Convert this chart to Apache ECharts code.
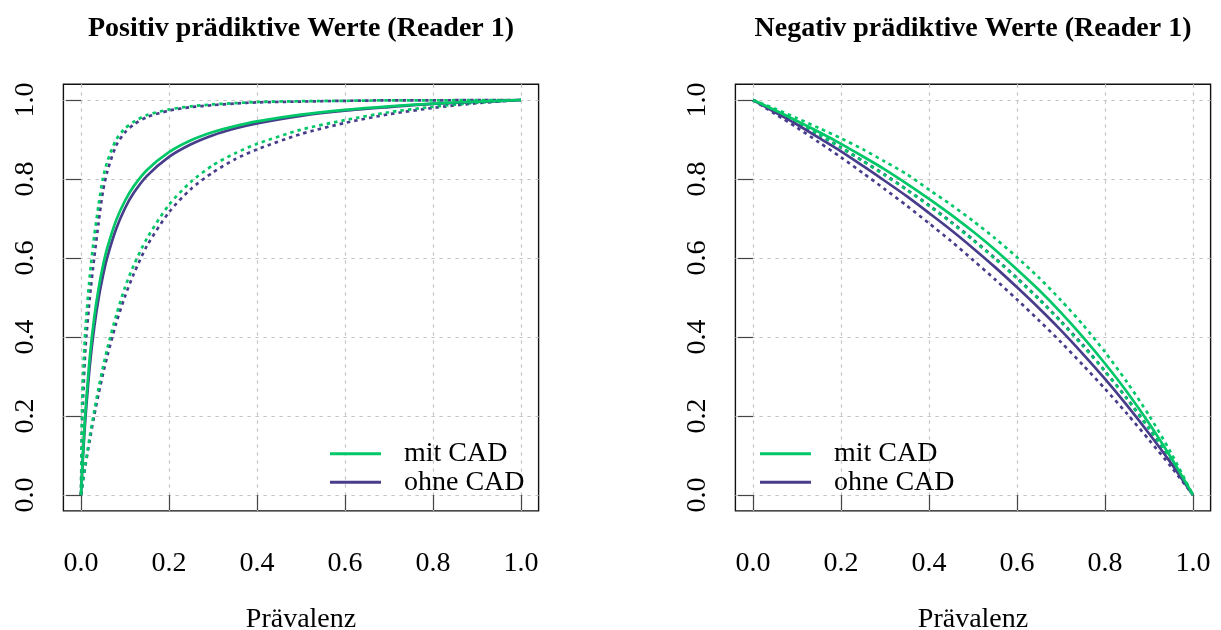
<!DOCTYPE html>
<html><head><meta charset="utf-8">
<script src="https://cdn.jsdelivr.net/npm/echarts@6/dist/echarts.min.js"></script>
<style>html,body{margin:0;padding:0;background:#fff}#c{width:1221px;height:630px}</style>
</head><body><div id="c"></div>
<script>
// ---- data ----
const titles = ['Positiv prädiktive Werte (Reader 1)', 'Negativ prädiktive Werte (Reader 1)'];
const xName = 'Prävalenz';
const seriesNames = ['mit CAD', 'ohne CAD'];
const tickValues = [0, 0.2, 0.4, 0.6, 0.8, 1.0];
const tickLabels = ['0.0', '0.2', '0.4', '0.6', '0.8', '1.0'];

// left panel: positive predictive values
const prevPPV = [0, 0.0025, 0.005, 0.01, 0.02, 0.03, 0.04, 0.05, 0.06, 0.08, 0.1, 0.12, 0.15, 0.2, 0.25, 0.3, 0.35, 0.4, 0.5, 0.6, 0.7, 0.8, 0.9, 1.0];
const ppvMit     = [0, 0.062, 0.117, 0.210, 0.349, 0.449, 0.523, 0.581, 0.627, 0.696, 0.745, 0.782, 0.823, 0.868, 0.898, 0.919, 0.934, 0.946, 0.963, 0.975, 0.984, 0.991, 0.996, 1.0];
const ppvOhne    = [0, 0.056, 0.107, 0.194, 0.327, 0.424, 0.498, 0.556, 0.603, 0.674, 0.726, 0.765, 0.808, 0.856, 0.888, 0.911, 0.928, 0.941, 0.960, 0.973, 0.982, 0.990, 0.995, 1.0];
const ppvMitUp   = [0, 0.23, 0.31, 0.42, 0.555, 0.655, 0.735, 0.803, 0.845, 0.900, 0.928, 0.945, 0.962, 0.976, 0.984, 0.989, 0.992, 0.995, 0.997, 0.998, 0.999, 0.999, 1.0, 1.0];
const ppvOhneUp  = [0, 0.18, 0.25, 0.37, 0.50, 0.60, 0.69, 0.77, 0.82, 0.885, 0.918, 0.938, 0.957, 0.973, 0.982, 0.987, 0.991, 0.994, 0.996, 0.998, 0.999, 0.999, 1.0, 1.0];
const ppvMitLow  = [0, 0.020, 0.040, 0.078, 0.149, 0.212, 0.271, 0.324, 0.372, 0.455, 0.526, 0.582, 0.650, 0.735, 0.793, 0.835, 0.865, 0.889, 0.925, 0.949, 0.969, 0.983, 0.993, 1.0];
const ppvOhneLow = [0, 0.019, 0.038, 0.074, 0.140, 0.201, 0.256, 0.307, 0.353, 0.435, 0.503, 0.560, 0.631, 0.716, 0.775, 0.817, 0.850, 0.875, 0.914, 0.942, 0.964, 0.980, 0.992, 1.0];

// right panel: negative predictive values
const prevNPV = [0, 0.05, 0.1, 0.15, 0.2, 0.25, 0.3, 0.35, 0.4, 0.45, 0.5, 0.55, 0.6, 0.65, 0.7, 0.75, 0.8, 0.85, 0.9, 0.95, 1.0];
const npvMit     = [1, 0.974, 0.947, 0.919, 0.889, 0.857, 0.824, 0.788, 0.750, 0.710, 0.667, 0.621, 0.571, 0.519, 0.462, 0.400, 0.333, 0.261, 0.182, 0.095, 0];
const npvOhne    = [1, 0.969, 0.938, 0.904, 0.870, 0.833, 0.795, 0.756, 0.714, 0.671, 0.625, 0.577, 0.526, 0.473, 0.417, 0.357, 0.294, 0.227, 0.156, 0.081, 0];
const npvMitUp   = [1, 0.978, 0.954, 0.929, 0.903, 0.875, 0.844, 0.812, 0.773, 0.735, 0.694, 0.650, 0.602, 0.550, 0.493, 0.431, 0.362, 0.286, 0.202, 0.107, 0];
const npvMitLow  = [1, 0.972, 0.942, 0.912, 0.879, 0.845, 0.809, 0.772, 0.732, 0.690, 0.645, 0.598, 0.548, 0.495, 0.438, 0.377, 0.313, 0.243, 0.168, 0.087, 0];
const npvOhneUp  = [1, 0.972, 0.943, 0.912, 0.880, 0.846, 0.811, 0.773, 0.734, 0.692, 0.647, 0.600, 0.550, 0.497, 0.440, 0.380, 0.314, 0.245, 0.169, 0.088, 0];
const npvOhneLow = [1, 0.965, 0.930, 0.893, 0.855, 0.815, 0.774, 0.732, 0.688, 0.643, 0.595, 0.546, 0.495, 0.442, 0.387, 0.329, 0.269, 0.206, 0.140, 0.072, 0];

// ---- styling ----
const FONT = 'Liberation Serif';
const GREEN = '#00C767';
const PURPLE = '#483D8B';
const LW = 2.7;
const DOT = [3.5, 4];

function pairs(xs, ys) { return xs.map((x, i) => [x, ys[i]]); }
function labelFor(v) {
  const i = tickValues.findIndex(t => Math.abs(t - v) < 1e-9);
  return i >= 0 ? tickLabels[i] : '';
}

const grids = [
  { left: 63.4, top: 84.2, width: 475.2, height: 426.7 },
  { left: 735.4, top: 84.2, width: 475.2, height: 426.7 }
];

function xAxisFor(gi) {
  return {
    gridIndex: gi, type: 'value', min: -0.04, max: 1.04,
    axisLine: { show: false },
    axisTick: { show: true, inside: false, length: 15, customValues: tickValues, lineStyle: { color: '#444', width: 1.2 } },
    axisLabel: { customValues: tickValues, formatter: labelFor, margin: 38.5, fontFamily: FONT, fontSize: 28, lineHeight: 28, color: '#000' },
    splitLine: { show: true, lineStyle: { color: '#c6c6c6', width: 1.2, type: [3.5, 4.5] } },
    name: xName, nameLocation: 'middle', nameGap: 95,
    nameTextStyle: { fontFamily: FONT, fontSize: 28, lineHeight: 28, color: '#000' }
  };
}
function yAxisFor(gi) {
  return {
    gridIndex: gi, type: 'value', min: -0.04, max: 1.04,
    axisLine: { show: false },
    axisTick: { show: true, inside: false, length: 15, customValues: tickValues, lineStyle: { color: '#444', width: 1.2 } },
    axisLabel: { customValues: tickValues, formatter: labelFor, rotate: 90, margin: 23.5, fontFamily: FONT, fontSize: 28, lineHeight: 28, color: '#000' },
    splitLine: { show: true, lineStyle: { color: '#c6c6c6', width: 1.2, type: [3.5, 4.5] } }
  };
}

function line(name, gi, xs, ys, color, dotted) {
  return {
    name: name, type: 'line', xAxisIndex: gi, yAxisIndex: gi,
    data: pairs(xs, ys), symbol: 'none', showSymbol: false,
    smooth: 0.25, silent: true, animation: false,
    lineStyle: { color: color, width: LW, type: dotted ? DOT : 'solid', cap: 'butt' },
    itemStyle: { color: color }
  };
}

const series = [
  line('ohne CAD unten', 0, prevPPV, ppvOhneLow, PURPLE, true),
  line('ohne CAD oben', 0, prevPPV, ppvOhneUp, PURPLE, true),
  line('mit CAD unten', 0, prevPPV, ppvMitLow, GREEN, true),
  line('mit CAD oben', 0, prevPPV, ppvMitUp, GREEN, true),
  line(seriesNames[1], 0, prevPPV, ppvOhne, PURPLE, false),
  line(seriesNames[0], 0, prevPPV, ppvMit, GREEN, false),

  line('ohne CAD unten', 1, prevNPV, npvOhneLow, PURPLE, true),
  line('ohne CAD oben', 1, prevNPV, npvOhneUp, PURPLE, true),
  line('mit CAD unten', 1, prevNPV, npvMitLow, GREEN, true),
  line('mit CAD oben', 1, prevNPV, npvMitUp, GREEN, true),
  line(seriesNames[1], 1, prevNPV, npvOhne, PURPLE, false),
  line(seriesNames[0], 1, prevNPV, npvMit, GREEN, false)
];

function legendAt(left) {
  return {
    data: seriesNames.map(n => ({ name: n, icon: 'rect' })),
    orient: 'vertical', left: left, top: 439.4, padding: 0,
    itemWidth: 51, itemHeight: 3, itemGap: 0, selectedMode: false,
    textStyle: { fontFamily: FONT, fontSize: 28, lineHeight: 28.6, color: '#000', padding: [0, 0, 0, 18] }
  };
}

const chart = echarts.init(document.getElementById('c'), null, { renderer: 'canvas' });
chart.setOption({
  animation: false,
  backgroundColor: '#fff',
  grid: grids.map(g => Object.assign({ show: true, borderColor: '#111', borderWidth: 1.4, backgroundColor: 'transparent', containLabel: false, outerBoundsMode: 'none' }, g)),
  xAxis: [xAxisFor(0), xAxisFor(1)],
  yAxis: [yAxisFor(0), yAxisFor(1)],
  legend: [legendAt(330), legendAt(760)],
  graphic: titles.map((t, i) => ({
    type: 'text', silent: true,
    x: grids[i].left + grids[i].width / 2, y: 29,
    style: { text: t, fontFamily: FONT, fontSize: 28, fontWeight: 'bold', fill: '#000', align: 'center', verticalAlign: 'middle' }
  })),
  series: series
});
</script>
</body></html>
